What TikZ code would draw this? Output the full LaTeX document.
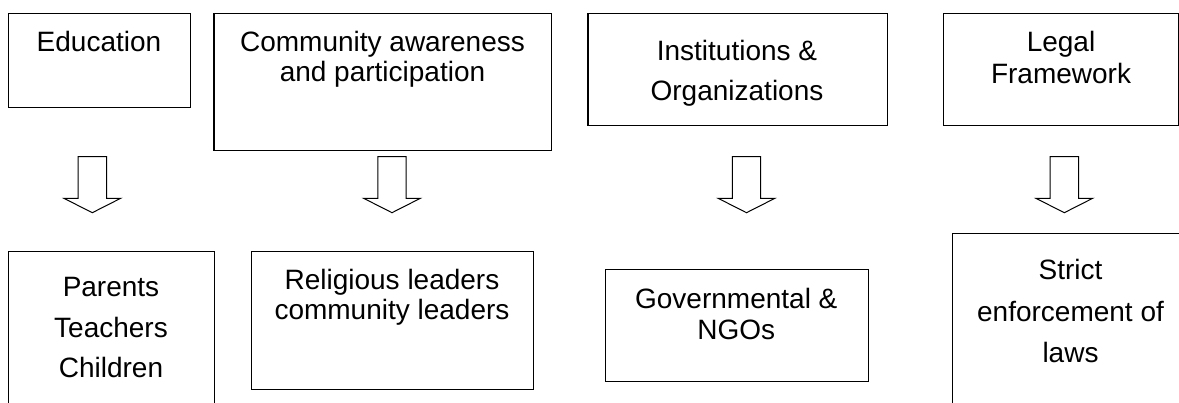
\documentclass[tikz,border=0pt]{standalone}
\usepackage{fontspec}
\setmainfont{Liberation Sans}
\begin{document}
\begin{tikzpicture}[x=1pt,y=-1pt,
  box/.style={draw, line width=1.2pt, inner sep=0pt, anchor=north west},
  lbl/.style={font=\fontsize{28}{30}\selectfont, inner sep=0pt, anchor=base},
  downarrow/.pic={\draw[line width=1pt, line join=miter]
     (-14.2,0) -- (14.2,0) -- (14.2,41.6) -- (28.4,41.6) -- (0,56)
     -- (-28.4,41.6) -- (-14.2,41.6) -- cycle;}]
\useasboundingbox (0,0) rectangle (1179,403);
\clip (0,0) rectangle (1179,403);
\fill[white] (0,0) rectangle (1179,403);
% top row
\node[box, minimum width=182pt, minimum height=94.6pt] (edu) at (8,12.7) {};
\node[box, minimum width=337.4pt, minimum height=137.3pt] (comm) at (213.3,12.7) {};
\node[box, minimum width=299.4pt, minimum height=112.6pt] (inst) at (587.3,12.7) {};
\node[box, minimum width=235.6pt, minimum height=112.6pt] (legal) at (942.7,12.7) {};
% bottom row
\node[box, minimum width=206pt, minimum height=200pt] (par) at (8,250.7) {};
\node[box, minimum width=282pt, minimum height=138pt] (rel) at (251,251) {};
\node[box, minimum width=262.7pt, minimum height=111.7pt] (gov) at (605,269) {};
\node[box, minimum width=237pt, minimum height=200pt] (strict) at (951.7,233.3) {};
% texts
\node[lbl] (edut) at (99,51.7) {Education};
\node[lbl] (commt1) at (382.5,51.7) {Community awareness};
\node[lbl] (commt2) at (382.5,81.7) {and participation};
\node[lbl] (instt1) at (737,60.7) {Institutions \&};
\node[lbl] (instt2) at (737,100.5) {Organizations};
\node[lbl] (legalt1) at (1061,51.7) {Legal};
\node[lbl] (legalt2) at (1061,83.3) {Framework};
\node[lbl] (part1) at (111,297) {Parents};
\node[lbl] (part2) at (111,338) {Teachers};
\node[lbl] (part3) at (111,378) {Children};
\node[lbl] (relt1) at (392,289.3) {Religious leaders};
\node[lbl] (relt2) at (392,319.3) {community leaders};
\node[lbl] (govt1) at (736.3,308.3) {Governmental \&};
\node[lbl] (govt2) at (736.3,340) {NGOs};
\node[lbl] (strictt1) at (1070.5,280) {Strict};
\node[lbl] (strictt2) at (1070.5,321.7) {enforcement of};
\node[lbl] (strictt3) at (1070.5,362.7) {laws};
% block arrows
\coordinate (a1) at (92.3,156.7);
\coordinate (a2) at (392,156.7);
\coordinate (a3) at (746.5,156.7);
\coordinate (a4) at (1064.3,156.7);
\pic at (a1) {downarrow};
\pic at (a2) {downarrow};
\pic at (a3) {downarrow};
\pic at (a4) {downarrow};
\end{tikzpicture}
\end{document}
